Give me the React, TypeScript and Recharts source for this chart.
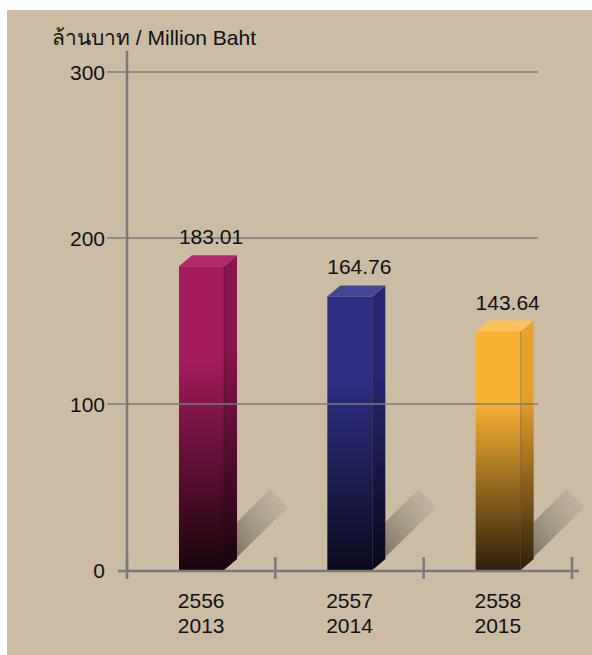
import React from 'react';
import { BarChart, Bar, XAxis, YAxis, LabelList, ReferenceLine } from 'recharts';

const thaiYears = ['2556', '2557', '2558'];
const years = ['2013', '2014', '2015'];
const values = [183.01, 164.76, 143.64];
const yTicks = [0, 100, 200, 300];
const boundaryTicks = [0, 1, 2, 3];
const axisTitle = 'ล้านบาท / Million Baht';

const data = thaiYears.map((t, i) => ({ name: t, en: years[i], value: values[i], idx: i }));

const palette = [
  { front: '#a41b5d', side: '#87154d', top: '#b3276c', dark: '#230611', darkest: '#1a040c' },
  { front: '#2e2e85', side: '#262672', top: '#444694', dark: '#0e0e26', darkest: '#08081a' },
  { front: '#f9b234', side: '#e9a12b', top: '#fbc15b', dark: '#3d290d', darkest: '#2e1f0a' },
];

const FONT = '"Liberation Sans", Arial, Helvetica, "Noto Sans", sans-serif';
const AXIS = '#7a7a7a';
const DX = 13;
const DY = 11;

const Bar3D = (props: any) => {
  const { x, y, width, height, index } = props;
  const c = palette[index % palette.length];
  const xr = x + width;
  const yb = y + height;
  return (
    <g>
      <defs>
        <linearGradient id={`front${index}`} x1="0" y1="0" x2="0" y2="1">
          <stop offset="0" stopColor={c.front} />
          <stop offset="0.3" stopColor={c.front} />
          <stop offset="0.95" stopColor={c.dark} />
          <stop offset="1" stopColor={c.darkest} />
        </linearGradient>
        <linearGradient id={`side${index}`} x1="0" y1="0" x2="0" y2="1">
          <stop offset="0" stopColor={c.side} />
          <stop offset="0.3" stopColor={c.side} />
          <stop offset="1" stopColor={c.darkest} />
        </linearGradient>
        <linearGradient id={`shadow${index}`} x1="0" y1="1" x2="1" y2="0">
          <stop offset="0" stopColor="#564e43" stopOpacity="0.9" />
          <stop offset="1" stopColor="#b8ab94" stopOpacity="0.25" />
        </linearGradient>
      </defs>
      <polygon
        points={`${xr},${yb} ${xr + 64},${yb - 63} ${xr + 46},${yb - 81} ${xr + DX},${yb - 48} ${xr + DX},${yb - DY}`}
        fill={`url(#shadow${index})`}
      />
      <polygon
        points={`${xr},${y} ${xr + DX},${y - DY} ${xr + DX},${yb - DY} ${xr},${yb}`}
        fill={`url(#side${index})`}
      />
      <polygon
        points={`${x},${y} ${x + DX},${y - DY} ${xr + DX},${y - DY} ${xr},${y}`}
        fill={c.top}
      />
      <rect x={x} y={y} width={width} height={height} fill={`url(#front${index})`} />
      <line x1={xr} y1={y} x2={xr} y2={yb} stroke="rgba(0,0,0,0.25)" strokeWidth={1} />
    </g>
  );
};

const ValueLabel = (props: any) => {
  const { x, y, width, value } = props;
  return (
    <text
      x={x + (width + DX) / 2 + 3}
      y={y - 22}
      textAnchor="middle"
      fontSize={21}
      fontFamily={FONT}
      fill="#111"
    >
      {Number(value).toFixed(2)}
    </text>
  );
};

const YTick = (props: any) => {
  const { x, y, payload } = props;
  return (
    <g>
      {payload.value > 0 && (
        <line x1={x + 2} y1={y} x2={x + 433} y2={y} stroke={AXIS} strokeWidth={1.3} />
      )}
      <text x={x} y={y} dy="0.36em" textAnchor="end" fontSize={21} fontFamily={FONT} fill="#111">
        {payload.value}
      </text>
    </g>
  );
};

const CatTick = (props: any) => {
  const { x, y, payload, index } = props;
  return (
    <text x={x} y={y} textAnchor="middle" fontSize={21} fontFamily={FONT} fill="#111">
      <tspan x={x} dy={37}>{payload.value}</tspan>
      <tspan x={x} dy={25}>{years[index]}</tspan>
    </text>
  );
};

const BoundaryTick = (props: any) => {
  const { x, y } = props;
  return <line x1={x} y1={y - 13} x2={x} y2={y + 9} stroke={AXIS} strokeWidth={2.5} />;
};

export default function App() {
  return (
    <div style={{ position: 'absolute', left: 0, top: 0, width: 592, height: 655, background: '#ffffff' }}>
      <div style={{ position: 'absolute', left: 7, top: 10, width: 585, height: 645, background: '#cbbca3' }} />
      <div style={{ position: 'absolute', left: 0, top: 0 }}>
        <BarChart width={592} height={655} data={data} margin={{ top: 51, right: 13, bottom: 0, left: 0 }} barSize={45}>
          <XAxis
            xAxisId="b"
            type="number"
            dataKey="idx"
            domain={[0, 3]}
            ticks={boundaryTicks}
            padding={{ left: 9, right: 7 }}
            height={1}
            axisLine={false}
            tickLine={false}
            tickSize={0}
            tickMargin={0}
            tick={<BoundaryTick />}
            interval={0}
          />
          <XAxis
            xAxisId="cat"
            dataKey="name"
            padding={{ left: 9, right: 7 }}
            height={84}
            axisLine={{ stroke: AXIS, strokeWidth: 2.5 }}
            tickLine={false}
            tickSize={0}
            tickMargin={0}
            tick={<CatTick />}
            interval={0}
          />
          <YAxis
            domain={[0, 300]}
            ticks={yTicks}
            width={118}
            padding={{ top: 21 }}
            axisLine={false}
            tickLine={false}
            tickSize={11}
            tickMargin={2}
            tick={<YTick />}
            interval={0}
          />
          <ReferenceLine xAxisId="b" x={0} stroke={AXIS} strokeWidth={2.5} />
          <Bar xAxisId="cat" dataKey="value" shape={<Bar3D />} isAnimationActive={false}>
            <LabelList dataKey="value" content={<ValueLabel />} />
          </Bar>
        </BarChart>
      </div>
      <svg width={592} height={60} style={{ position: 'absolute', left: 0, top: 0 }}>
        <text x={52} y={45} fontSize={21} fontFamily={FONT} fill="#111">
          {axisTitle}
        </text>
      </svg>
    </div>
  );
}
